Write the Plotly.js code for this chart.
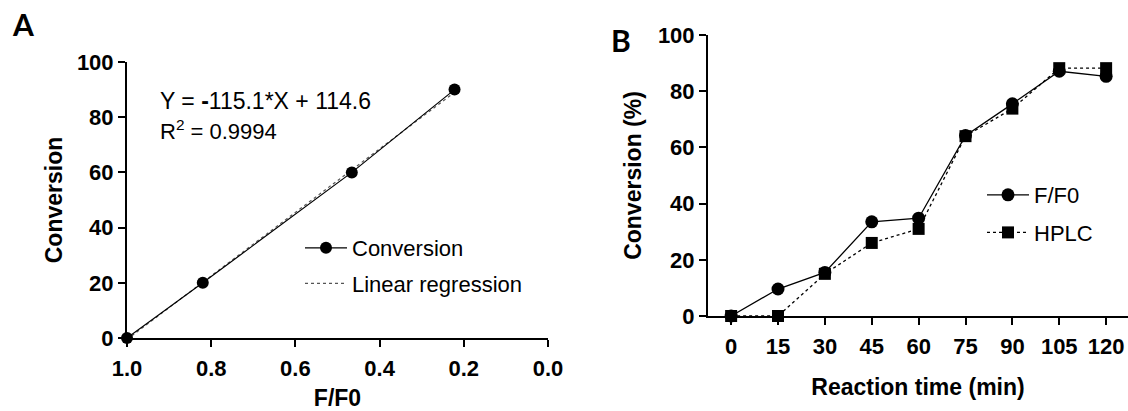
<!DOCTYPE html>
<html>
<head>
<meta charset="utf-8">
<script src="https://cdn.plot.ly/plotly-3.0.1.min.js"></script>
<style>html,body{margin:0;padding:0;background:#fff;}#chart{width:1128px;height:411px;}</style>
</head>
<body>
<div id="chart"></div>
<script>
// Panel A data
const ffRatio = [1.0, 0.82, 0.466, 0.222];
const conversionA = [0, 20, 60, 90];
const regX = [1.0, 0.222];
const regY = [-0.5, 89.0];
const xTicksA = [1.0, 0.8, 0.6, 0.4, 0.2, 0.0];
const yTicks = [0, 20, 40, 60, 80, 100];

// Panel B data
const timeMin = [0, 15, 30, 45, 60, 75, 90, 105, 120];
const ff0B = [0, 9.6, 15.5, 33.5, 34.8, 64.2, 75.5, 87.1, 85.3];
const hplcB = [0, 0, 15.0, 26.0, 31.0, 64.0, 73.8, 88.2, 88.2];

const FONT = 'Liberation Sans, Arial, sans-serif';
const W = 1128, H = 411;
const px = v => v / W;
const py = v => (H - v) / H;

const axisCommon = {
  showline: true, linewidth: 2, linecolor: '#000',
  ticks: 'outside', ticklen: 7, tickwidth: 2, tickcolor: '#000',
  showgrid: false, zeroline: false,
  tickfont: {family: FONT, size: 22, color: '#000', weight: 'bold'},
  ticklabelstandoff: 3,
  fixedrange: true
};

const traces = [
  {x: regX, y: regY, xaxis: 'x', yaxis: 'y', mode: 'lines', name: 'Linear regression',
   line: {color: '#555', width: 1.2, dash: 'dot'}, legend: 'legend', legendgroup: 'b', legendrank: 2, cliponaxis: false},
  {x: ffRatio, y: conversionA, xaxis: 'x', yaxis: 'y', mode: 'lines+markers', name: 'Conversion',
   line: {color: '#000', width: 1.2}, marker: {symbol: 'circle', size: 12, color: '#000'},
   legend: 'legend', legendgroup: 'a', legendrank: 1, cliponaxis: false},
  {x: timeMin, y: ff0B, xaxis: 'x2', yaxis: 'y2', mode: 'lines+markers', name: 'F/F0',
   line: {color: '#000', width: 1.3}, marker: {symbol: 'circle', size: 13, color: '#000'},
   legend: 'legend2', legendgroup: 'c', cliponaxis: false},
  {x: timeMin, y: hplcB, xaxis: 'x2', yaxis: 'y2', mode: 'lines+markers', name: 'HPLC',
   line: {color: '#000', width: 1.3, dash: '3px,3px'}, marker: {symbol: 'square', size: 12, color: '#000'},
   legend: 'legend2', legendgroup: 'd', cliponaxis: false}
];

const layout = {
  width: W, height: H,
  margin: {l: 0, r: 0, t: 0, b: 0},
  paper_bgcolor: '#fff', plot_bgcolor: 'rgba(0,0,0,0)',
  font: {family: FONT, color: '#000'},
  showlegend: true,
  xaxis: Object.assign({}, axisCommon, {
    domain: [px(127), px(548)], anchor: 'y', range: [1.0, 0.0],
    tickvals: xTicksA, tickformat: '.1f',
    title: {text: '<b>F/F0</b>', font: {family: FONT, size: 23, color: '#000'}, standoff: 10}
  }),
  yaxis: Object.assign({}, axisCommon, {
    domain: [py(338), py(62)], anchor: 'x', range: [0, 100],
    tickvals: yTicks, ticklabelstandoff: 0,
    title: {text: '<b>Conversion</b>', font: {family: FONT, size: 23, color: '#000'}, standoff: 8}
  }),
  xaxis2: Object.assign({}, axisCommon, {
    domain: [px(708), 1], anchor: 'y2', range: [-7.4, 127],
    tickvals: timeMin,
    title: {text: '<b>Reaction time (min)</b>', font: {family: FONT, size: 23, color: '#000'}, standoff: 20}
  }),
  yaxis2: Object.assign({}, axisCommon, {
    domain: [py(316), py(35)], anchor: 'x2', range: [0, 100],
    tickvals: yTicks, ticklabelstandoff: 0,
    title: {text: '<b>Conversion (%)</b>', font: {family: FONT, size: 23, color: '#000'}, standoff: 10}
  }),
  legend: {
    x: px(300), y: py(227), xanchor: 'left', yanchor: 'top',
    bgcolor: 'rgba(0,0,0,0)', font: {family: FONT, size: 22, color: '#000'},
    traceorder: 'grouped', tracegroupgap: 4, itemwidth: 42
  },
  legend2: {
    x: px(982), y: py(174), xanchor: 'left', yanchor: 'top',
    bgcolor: 'rgba(0,0,0,0)', font: {family: FONT, size: 22, color: '#000'},
    traceorder: 'grouped', tracegroupgap: 6, itemwidth: 42
  },
  annotations: [
    {xref: 'paper', yref: 'paper', x: px(158), y: py(101), xanchor: 'left', yanchor: 'middle',
     text: 'Y = <b>-</b>115.1*X + 114.6', showarrow: false, font: {family: FONT, size: 23, color: '#000'}},
    {xref: 'paper', yref: 'paper', x: px(158), y: py(130), xanchor: 'left', yanchor: 'middle',
     text: 'R<sup>2</sup> = 0.9994', showarrow: false, font: {family: FONT, size: 22, color: '#000'}},
    {xref: 'paper', yref: 'paper', x: px(10), y: py(24), xanchor: 'left', yanchor: 'middle',
     text: '<b>A</b>', showarrow: false, font: {family: 'Lato, Noto Sans, sans-serif', size: 30, color: '#000'}},
    {xref: 'paper', yref: 'paper', x: px(609), y: py(40), xanchor: 'left', yanchor: 'middle',
     text: '<b>B</b>', showarrow: false, font: {family: 'Lato, Noto Sans, sans-serif', size: 30, color: '#000'}}
  ]
};

Plotly.newPlot('chart', traces, layout, {displayModeBar: false, staticPlot: true});
</script>
</body>
</html>
